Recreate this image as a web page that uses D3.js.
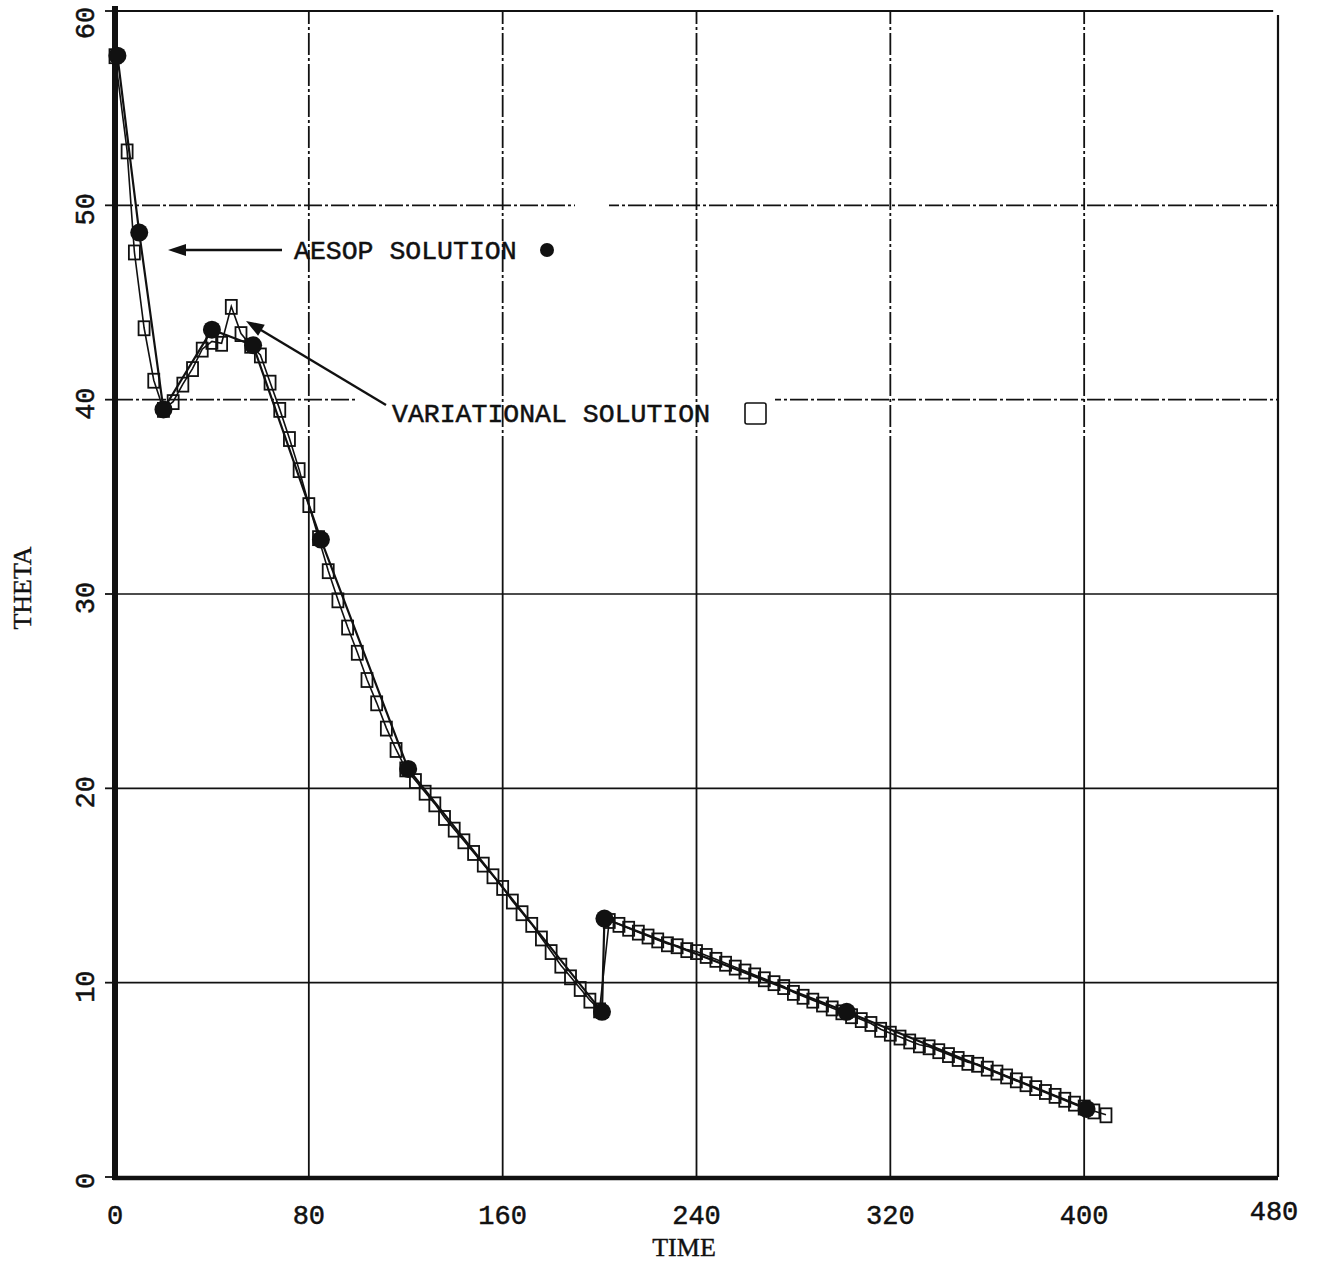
<!DOCTYPE html>
<html><head><meta charset="utf-8">
<script src="https://cdn.jsdelivr.net/npm/d3@7"></script>
<style>body{margin:0;background:#fff}</style>
</head><body>
<svg id="c" width="1320" height="1261"></svg>
<script>
// ---- data ----
const xTicks = [0, 80, 160, 240, 320, 400, 480];
const yTicks = [0, 10, 20, 30, 40, 50, 60];
const xTitle = "TIME";
const yTitle = "THETA";
const aesopLabel = "AESOP SOLUTION";
const varLabel = "VARIATIONAL SOLUTION";

const aesopTime  = [1, 10, 20, 40, 57, 85, 121, 201, 202, 302, 401];
const aesopTheta = [57.7, 48.6, 39.5, 43.6, 42.8, 32.8, 21.0, 8.5, 13.3, 8.5, 3.5];

const varTime = [0, 5, 8, 12, 16, 20, 24, 28, 32, 36, 40, 44, 48, 52, 56, 60, 64, 68, 72, 76,
  80, 84, 88, 92, 96, 100, 104, 108, 112, 116, 120, 124, 128, 132, 136, 140, 144, 148, 152, 156,
  160, 164, 168, 172, 176, 180, 184, 188, 192, 196, 200, 204, 208, 212, 216, 220, 224, 228, 232, 236,
  240, 244, 248, 252, 256, 260, 264, 268, 272, 276, 280, 284, 288, 292, 296, 300, 304, 308, 312, 316,
  320, 324, 328, 332, 336, 340, 344, 348, 352, 356, 360, 364, 368, 372, 376, 380, 384, 388, 392, 396,
  400, 404, 409];
const varTheta = [57.7, 52.8, 47.6, 43.7, 41.0, 39.5, 39.9, 40.8, 41.6, 42.6, 43.0, 42.9, 44.8, 43.4, 42.8, 42.3, 40.9, 39.5, 38.0, 36.4,
  34.6, 32.9, 31.2, 29.7, 28.3, 27.0, 25.6, 24.4, 23.1, 22.0, 21.0, 20.4, 19.8, 19.2, 18.5, 17.9, 17.3, 16.7, 16.1, 15.5,
  14.9, 14.2, 13.6, 13.0, 12.3, 11.6, 10.9, 10.3, 9.7, 9.1, 8.6, 13.2, 13.0, 12.8, 12.6, 12.4, 12.2, 12.0, 11.9, 11.7,
  11.6, 11.4, 11.2, 11.0, 10.8, 10.6, 10.4, 10.2, 10.0, 9.8, 9.5, 9.3, 9.1, 8.9, 8.7, 8.5, 8.3, 8.1, 7.9, 7.6,
  7.4, 7.2, 7.0, 6.8, 6.7, 6.5, 6.3, 6.1, 5.9, 5.8, 5.6, 5.4, 5.2, 5.0, 4.8, 4.6, 4.4, 4.2, 4.0, 3.8,
  3.6, 3.4, 3.2];

// ---- drawing ----
const svg = d3.select("#c");
const x = d3.scaleLinear().domain([0, 480]).range([115, 1278]);
const y = d3.scaleLinear().domain([0, 60]).range([1177, 11]);
const ink = "#111";
const mono = "'Liberation Mono', 'DejaVu Sans Mono', monospace";
const serif = "'Liberation Serif', 'DejaVu Serif', serif";

// horizontal grid
const hGrid = svg.append("g");
hGrid.selectAll("line").data(yTicks.filter(v => v > 0 && v < 60)).join("line")
  .attr("x1", x(0)).attr("x2", x(480))
  .attr("y1", d => y(d)).attr("y2", d => y(d))
  .attr("stroke", ink).attr("stroke-width", 1.6)
  .attr("stroke-dasharray", d => d >= 40 ? "18,3,3,3" : null);

// gaps in the horizontal grid lines (as in the reference)
svg.append("rect").attr("x", 355).attr("y", y(40) - 3).attr("width", 420).attr("height", 6).attr("fill", "#fff");
svg.append("rect").attr("x", 575).attr("y", y(50) - 3).attr("width", 34).attr("height", 6).attr("fill", "#fff");

// vertical grid: solid lower part, dash-dot upper part
const vG = svg.append("g");
const vVals = xTicks.filter(v => v > 0 && v < 480);
vG.selectAll("line.lo").data(vVals).join("line").attr("class", "lo")
  .attr("x1", d => x(d)).attr("x2", d => x(d))
  .attr("y1", y(0)).attr("y2", y(37))
  .attr("stroke", ink).attr("stroke-width", 1.8);
vG.selectAll("line.hi").data(vVals).join("line").attr("class", "hi")
  .attr("x1", d => x(d)).attr("x2", d => x(d))
  .attr("y1", y(37)).attr("y2", y(60))
  .attr("stroke", ink).attr("stroke-width", 1.8)
  .attr("stroke-dasharray", "22,3,3,3");

// frame
svg.append("line").attr("x1", x(0)).attr("x2", x(478)).attr("y1", y(60)).attr("y2", y(60))
  .attr("stroke", ink).attr("stroke-width", 2);
svg.append("line").attr("x1", x(480)).attr("x2", x(480)).attr("y1", y(59.8)).attr("y2", y(0))
  .attr("stroke", ink).attr("stroke-width", 2.2);
svg.append("line").attr("x1", x(0) - 2).attr("x2", x(480)).attr("y1", y(0) + 1).attr("y2", y(0) + 1)
  .attr("stroke", ink).attr("stroke-width", 4.5);
svg.append("line").attr("x1", x(0)).attr("x2", x(0)).attr("y1", y(60) - 5).attr("y2", y(0) + 3)
  .attr("stroke", ink).attr("stroke-width", 6);

// y ticks and labels
svg.append("g").selectAll("line").data(yTicks).join("line")
  .attr("x1", x(0) - 10).attr("x2", x(0)).attr("y1", d => y(d)).attr("y2", d => y(d))
  .attr("stroke", ink).attr("stroke-width", 1.8);
svg.append("g").selectAll("text").data(yTicks).join("text")
  .attr("transform", d => `translate(94,${Math.max(y(d) + 4, 23)}) rotate(-90)`)
  .attr("text-anchor", "middle")
  .attr("font-family", mono).attr("font-size", 27).attr("fill", ink)
  .attr("stroke", ink).attr("stroke-width", 0.5)
  .text(d => d);

// x labels
svg.append("g").selectAll("text").data(xTicks).join("text")
  .attr("x", d => x(d) + (d === 480 ? -4 : 0))
  .attr("y", d => d === 480 ? 1220 : 1224)
  .attr("text-anchor", "middle")
  .attr("font-family", mono).attr("font-size", 27).attr("fill", ink)
  .attr("stroke", ink).attr("stroke-width", 0.5)
  .text(d => d);

// axis titles
svg.append("text").attr("x", 684).attr("y", 1256).attr("text-anchor", "middle")
  .attr("font-family", serif).attr("font-size", 26).attr("fill", ink)
  .attr("stroke", ink).attr("stroke-width", 0.4).text(xTitle);
svg.append("text").attr("transform", "translate(31,588) rotate(-90)").attr("text-anchor", "middle")
  .attr("font-family", serif).attr("font-size", 26).attr("fill", ink)
  .attr("stroke", ink).attr("stroke-width", 0.4).text(yTitle);

// series
const aesop = aesopTime.map((t, i) => ({t, v: aesopTheta[i]}));
const vari = varTime.map((t, i) => ({t, v: varTheta[i]}));
const line = d3.line().x(d => x(d.t)).y(d => y(d.v));

svg.append("path").datum(vari).attr("d", line)
  .attr("fill", "none").attr("stroke", ink).attr("stroke-width", 1.6);
svg.append("path").datum(aesop).attr("d", line)
  .attr("fill", "none").attr("stroke", ink).attr("stroke-width", 2.2);

svg.append("g").selectAll("rect").data(vari).join("rect")
  .attr("x", d => x(d.t) - 5.5).attr("y", d => y(d.v) - 6.5)
  .attr("width", 11).attr("height", 14)
  .attr("fill", "none").attr("stroke", ink).attr("stroke-width", 1.8);

svg.append("g").selectAll("circle").data(aesop).join("circle")
  .attr("cx", d => x(d.t)).attr("cy", d => y(d.v)).attr("r", 9)
  .attr("fill", ink);

// annotations
const ann = svg.append("g");
// AESOP arrow
const a1y = y(47.7);
ann.append("line").attr("x1", 282).attr("x2", 180).attr("y1", a1y).attr("y2", a1y)
  .attr("stroke", ink).attr("stroke-width", 2.4);
ann.append("path").attr("d", `M168,${a1y} L186,${a1y - 6} L186,${a1y + 6} Z`).attr("fill", ink);
ann.append("text").attr("x", 294).attr("y", a1y + 9)
  .attr("font-family", mono).attr("font-size", 26.5).attr("fill", ink)
  .attr("stroke", ink).attr("stroke-width", 0.5).text(aesopLabel);
ann.append("circle").attr("cx", 547).attr("cy", a1y).attr("r", 7).attr("fill", ink);

// VARIATIONAL arrow
const tipX = 246, tipY = 321;
const sx = 386, sy = 405;
const ang = Math.atan2(sy - tipY, sx - tipX);
ann.append("line").attr("x1", sx).attr("y1", sy)
  .attr("x2", tipX + 14 * Math.cos(ang)).attr("y2", tipY + 14 * Math.sin(ang))
  .attr("stroke", ink).attr("stroke-width", 2.4);
const hl = 18, hw = 6.5;
const bx = tipX + hl * Math.cos(ang), by = tipY + hl * Math.sin(ang);
ann.append("path").attr("d",
  `M${tipX},${tipY} L${bx - hw * Math.sin(ang)},${by + hw * Math.cos(ang)} L${bx + hw * Math.sin(ang)},${by - hw * Math.cos(ang)} Z`)
  .attr("fill", ink);
ann.append("text").attr("x", 392).attr("y", 422)
  .attr("font-family", mono).attr("font-size", 26.5).attr("fill", ink)
  .attr("stroke", ink).attr("stroke-width", 0.5).text(varLabel);
ann.append("rect").attr("x", 745).attr("y", 403).attr("width", 21).attr("height", 21).attr("rx", 2)
  .attr("fill", "none").attr("stroke", ink).attr("stroke-width", 1.6);
</script>
</body></html>
